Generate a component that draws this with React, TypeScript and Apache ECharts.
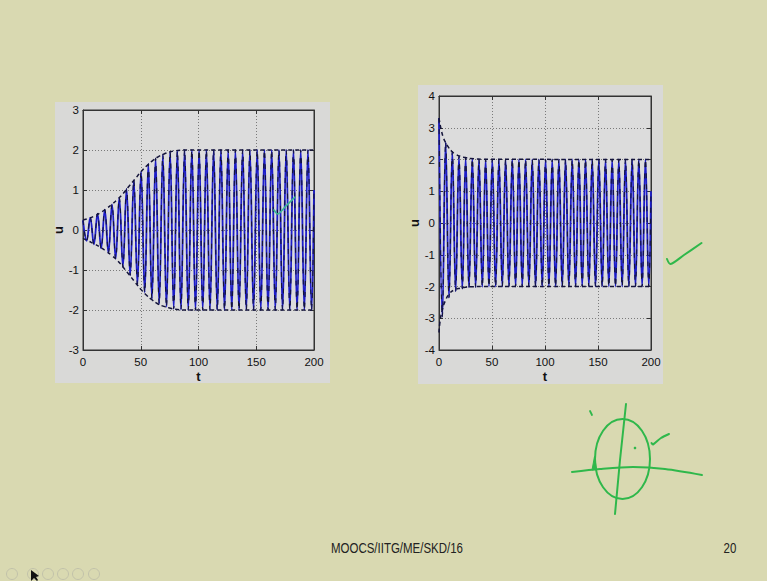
import React, { useEffect, useRef } from "react";
import * as echarts from "echarts";

// Sample times (extrema of the oscillation, roughly every half period) shared by both plots
const SAMPLE_T = [
  0, 3.14, 6.28, 9.42, 12.57, 15.71, 18.85, 21.99, 25.13, 28.27, 31.42, 34.56, 37.7, 40.84, 43.98,
  47.12, 50.27, 53.41, 56.55, 59.69, 62.83, 65.97, 69.12, 72.26, 75.4, 78.54, 81.68, 84.82, 87.96,
  91.11, 94.25, 97.39, 100.53, 103.67, 106.81, 109.96, 113.1, 116.24, 119.38, 122.52, 125.66,
  128.81, 131.95, 135.09, 138.23, 141.37, 144.51, 147.65, 150.8, 153.94, 157.08, 160.22, 163.36,
  166.5, 169.65, 172.79, 175.93, 179.07, 182.21, 185.35, 188.5, 191.64, 194.78, 197.92, 200,
];

// Left plot: u grows from a small amplitude to the limit cycle (amplitude 2)
const LEFT_U = [
  0.24, -0.27, 0.31, -0.36, 0.41, -0.46, 0.51, -0.57, 0.64, -0.72, 0.81, -0.92, 1.03, -1.13, 1.24,
  -1.35, 1.46, -1.56, 1.65, -1.72, 1.79, -1.84, 1.88, -1.92, 1.95, -1.97, 1.98, -1.99, 2.0,
  -2.0, 2.0, -2.0, 2.0, -2.0, 2.0, -2.0, 2.0, -2.0, 2.0, -2.0, 2.0,
  -2.0, 2.0, -2.0, 2.0, -2.0, 2.0, -2.0, 2.0, -2.0, 2.0, -2.0, 2.0,
  -2.0, 2.0, -2.0, 2.0, -2.0, 2.0, -2.0, 2.0, -2.0, 2.0, -2.0, 1.0,
];

// Right plot: u decays from a large amplitude to the limit cycle
const RIGHT_U = [
  3.3, -2.95, 2.55, -2.35, 2.24, -2.15, 2.1, -2.07, 2.05, -2.03, 2.02, -2.02, 2.01, -2.01, 2.0,
  -2.0, 2.0, -2.0, 2.0, -2.0, 2.0, -2.0, 2.0, -2.0, 2.0, -2.0, 2.0, -2.0, 2.0,
  -2.0, 2.0, -2.0, 2.0, -2.0, 2.0, -2.0, 2.0, -2.0, 2.0, -2.0, 2.0,
  -2.0, 2.0, -2.0, 2.0, -2.0, 2.0, -2.0, 2.0, -2.0, 2.0, -2.0, 2.0,
  -2.0, 2.0, -2.0, 2.0, -2.0, 2.0, -2.0, 2.0, -2.0, 2.0, -2.0, 1.0,
];

// Envelopes (dashed)
const LEFT_ENV_T = [0, 5, 10, 15, 20, 25, 30, 35, 40, 45, 50, 55, 60, 65, 70, 75, 80, 90, 200];
const LEFT_ENV_UP = [0.25, 0.29, 0.35, 0.43, 0.53, 0.64, 0.77, 0.92, 1.1, 1.27, 1.45, 1.6, 1.73, 1.83, 1.9, 1.95, 1.98, 2.0, 2.0];
const LEFT_ENV_LO = [-0.21, -0.28, -0.35, -0.43, -0.53, -0.64, -0.77, -0.94, -1.12, -1.3, -1.48, -1.63, -1.75, -1.85, -1.91, -1.95, -1.98, -2.0, -2.0];

const RIGHT_ENV_UP_T = [0, 2, 4, 6, 9, 12, 15, 20, 25, 30, 40, 200];
const RIGHT_ENV_UP = [3.3, 2.95, 2.7, 2.55, 2.38, 2.26, 2.18, 2.1, 2.06, 2.03, 2.01, 2.0];
const RIGHT_ENV_LO_T = [0, 1, 3, 6, 10, 15, 20, 25, 30, 40, 200];
const RIGHT_ENV_LO = [-3.45, -3.1, -2.75, -2.45, -2.22, -2.1, -2.05, -2.02, -2.01, -2.0, -2.0];

const X_TICK = { min: 0, max: 200, interval: 50 };
const LEFT_Y = { min: -3, max: 3, interval: 1 };
const RIGHT_Y = { min: -4, max: 4, interval: 1 };

const FOOTER = "MOOCS/IITG/ME/SKD/16";
const PAGE_NO = "20";

const FONT = "'Liberation Sans', Arial, sans-serif";
const GREEN = "#2fb84b";

const zip = (xs: number[], ys: number[]) => xs.map((x, i) => [x, ys[i]]);

export default function App() {
  const ref = useRef<HTMLDivElement>(null);
  useEffect(() => {
    if (!ref.current) return;
    const chart = echarts.init(ref.current, undefined, { renderer: "svg" });

    const label = { fontFamily: FONT, fontSize: 11.5, color: "#111" };
    const mkX = (grid: number, top = false) => ({
      type: "value",
      gridIndex: grid,
      position: top ? "top" : "bottom",
      ...X_TICK,
      name: top ? "" : "t",
      nameLocation: "middle",
      nameGap: 20,
      nameTextStyle: { fontFamily: FONT, fontWeight: "bold", fontSize: 13, color: "#111" },
      axisLine: { show: true, onZero: false, lineStyle: { color: "#333", width: 1 } },
      axisTick: { show: true, inside: true, length: 4, lineStyle: { color: "#333" } },
      axisLabel: { show: !top, margin: 6, ...label },
      splitLine: { show: !top, lineStyle: { color: "#7a7a7a", type: [1, 2], width: 1 } },
    });
    const mkY = (grid: number, rng: any, right = false) => ({
      type: "value",
      gridIndex: grid,
      position: right ? "right" : "left",
      ...rng,
      name: right ? "" : "u",
      nameLocation: "middle",
      nameGap: 14,
      nameTextStyle: { fontFamily: FONT, fontWeight: "bold", fontSize: 13, color: "#111" },
      axisLine: { show: true, onZero: false, lineStyle: { color: "#333", width: 1 } },
      axisTick: { show: true, inside: true, length: 4, lineStyle: { color: "#333" } },
      axisLabel: { show: !right, margin: 4, ...label },
      splitLine: { show: !right, lineStyle: { color: "#7a7a7a", type: [1, 2], width: 1 } },
    });

    const osc = (xi: number, yi: number, data: number[][]) => [
      {
        type: "line",
        xAxisIndex: xi,
        yAxisIndex: yi,
        data,
        showSymbol: false,
        symbol: "none",
        smooth: 0.4,
        lineStyle: { color: "#1c1cc8", width: 1.8 },
        z: 2,
      },
      {
        type: "line",
        xAxisIndex: xi,
        yAxisIndex: yi,
        data,
        showSymbol: false,
        symbol: "none",
        smooth: 0.4,
        lineStyle: { color: "#14143a", width: 1.1, type: [5, 6] },
        z: 3,
      },
    ];
    const env = (xi: number, yi: number, data: number[][]) => ({
      type: "line",
      xAxisIndex: xi,
      yAxisIndex: yi,
      data,
      showSymbol: false,
      symbol: "none",
      smooth: true,
      lineStyle: { color: "#14143a", width: 1.5, type: [4, 3] },
      z: 4,
    });

    const gline = (pts: number[][], w = 2, color = GREEN, smooth = 0.3) => ({
      type: "polyline",
      shape: { points: pts, smooth },
      style: { stroke: color, lineWidth: w, fill: null, lineCap: "round", lineJoin: "round" },
      z: 100,
    });

    chart.setOption({
      animation: false,
      backgroundColor: "#d9d9b1",
      grid: [
        { left: 83, top: 110, width: 231, height: 240, show: true, backgroundColor: "#dcdcdc", borderColor: "#333", borderWidth: 1 },
        { left: 439, top: 96, width: 212, height: 254, show: true, backgroundColor: "#dcdcdc", borderColor: "#333", borderWidth: 1 },
      ],
      xAxis: [mkX(0), mkX(1), mkX(0, true), mkX(1, true)],
      yAxis: [mkY(0, LEFT_Y), mkY(1, RIGHT_Y), mkY(0, LEFT_Y, true), mkY(1, RIGHT_Y, true)],
      series: [
        ...osc(0, 0, zip(SAMPLE_T, LEFT_U)),
        env(0, 0, zip(LEFT_ENV_T, LEFT_ENV_UP)),
        env(0, 0, zip(LEFT_ENV_T, LEFT_ENV_LO)),
        ...osc(1, 1, zip(SAMPLE_T, RIGHT_U)),
        env(1, 1, zip(RIGHT_ENV_UP_T, RIGHT_ENV_UP)),
        env(1, 1, zip(RIGHT_ENV_LO_T, RIGHT_ENV_LO)),
      ],
      graphic: [
        { type: "rect", shape: { x: 55, y: 102, width: 275, height: 281 }, style: { fill: "#d9d9d7" }, z: -100 },
        { type: "rect", shape: { x: 418, y: 85, width: 245, height: 299 }, style: { fill: "#d9d9d7" }, z: -100 },
        {
          type: "text",
          x: 397,
          y: 548,
          scaleX: 0.82,
          style: { text: FOOTER, fontFamily: FONT, fontSize: 14, fill: "#222", align: "center", verticalAlign: "middle" },
          z: 50,
        },
        {
          type: "text",
          x: 730,
          y: 548,
          scaleX: 0.82,
          style: { text: PAGE_NO, fontFamily: FONT, fontSize: 14, fill: "#222", align: "center", verticalAlign: "middle" },
          z: 50,
        },
        // navigation icons
        ...[12, 33, 48, 63, 78, 94].map((cx) => ({
          type: "circle",
          shape: { cx, cy: 574, r: 5.5 },
          style: { fill: null, stroke: "#c2c2aa", lineWidth: 1 },
          z: 50,
        })),
        {
          type: "polygon",
          shape: { points: [[31, 570], [31, 581], [34, 578], [37, 581], [38, 580], [36, 577], [39, 576]] },
          style: { fill: "#111" },
          z: 60,
        },
        // green hand annotations
        gline([[274, 210], [278, 214], [286, 206], [295, 197]], 1.6, "#3ab795"),
        gline([[667, 259], [670.5, 264], [684, 255], [701.5, 243]]),
        {
          type: "ellipse",
          shape: { cx: 622.5, cy: 459, rx: 27.5, ry: 40 },
          style: { fill: null, stroke: GREEN, lineWidth: 2 },
          z: 100,
        },
        gline([[626, 404], [620, 460], [615, 514]], 2, GREEN, 0),
        gline([[572, 472], [600, 469], [633, 467], [665, 469], [702, 475]]),
        gline([[651.5, 443], [653, 444.5], [661, 438], [669, 434]]),
        gline([[590, 411], [592, 415]], 1.8, GREEN, 0),
        { type: "circle", shape: { cx: 635, cy: 448, r: 1.3 }, style: { fill: GREEN }, z: 100 },
        {
          type: "polygon",
          shape: { points: [[592, 470], [594.5, 456.5], [596.5, 469]] },
          style: { fill: GREEN, stroke: GREEN, lineWidth: 1 },
          z: 100,
        },
      ],
    });
    return () => chart.dispose();
  }, []);
  return (
    <div
      ref={ref}
      style={{ position: "absolute", left: 0, top: 0, width: 767, height: 581, background: "#d9d9b1" }}
    />
  );
}
